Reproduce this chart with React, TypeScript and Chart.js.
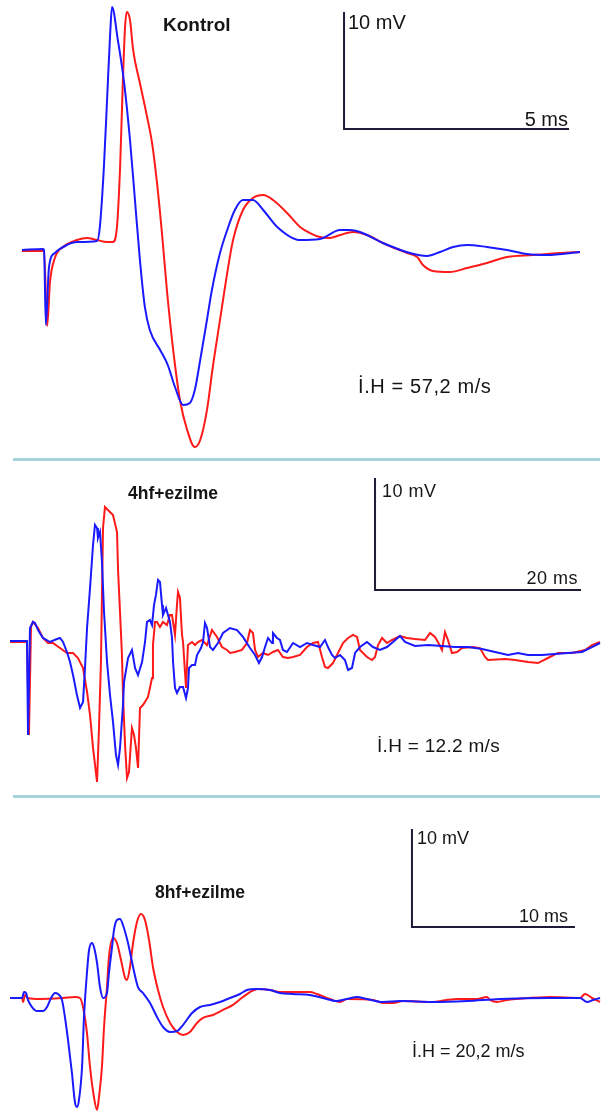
import React, { useEffect, useRef } from "react";
import { Chart, registerables } from "chart.js";

Chart.register(...registerables);

type Pt = [number, number]; // [time ms, voltage mV]

// ---------- Panel 1: Kontrol (time ms, amplitude mV) ----------
const kontrolBlue: Pt[] = [
  [0, 0], [0.47, 0.09], [0.49, 0], [0.53, -6.41], [0.6, -1.45], [0.73, -0.26], [1.0, 0.43],
  [1.22, 0.68], [1.67, 0.77], [1.73, 1.97], [1.82, 7.09], [1.89, 12.82], [1.96, 18.55],
  [2.0, 20.77], [2.13, 17.95], [2.27, 14.27], [2.4, 9.4], [2.51, 4.27], [2.62, -0.85],
  [2.73, -4.87], [2.84, -6.84], [3.07, -8.55], [3.24, -9.83], [3.4, -11.71], [3.58, -13.25],
  [3.73, -13.08], [3.84, -11.97], [3.96, -9.4], [4.11, -5.98], [4.22, -3.42], [4.4, -0.26],
  [4.56, 1.71], [4.73, 3.42], [4.91, 4.27], [5.13, 4.27], [5.36, 3.42], [5.67, 1.97],
  [6.18, 0.85], [6.62, 0.94], [7.07, 1.71], [7.29, 1.71], [7.51, 1.54], [8.02, 0.6],
  [8.62, -0.26], [9.0, -0.51], [9.29, -0.17], [9.58, 0.26], [9.89, 0.43], [10.33, 0.26],
  [10.78, 0], [11.22, -0.34], [11.67, -0.43], [12.4, -0.17],
];
const kontrolRed: Pt[] = [
  [0, -0.09], [0.49, -0.09], [0.56, -6.5], [0.62, -2.82], [0.73, -0.68], [0.91, 0.26],
  [1.22, 0.85], [1.44, 1.03], [1.67, 0.85], [1.89, 0.68], [2.02, 0.68], [2.11, 1.97],
  [2.18, 7.09], [2.24, 14.27], [2.29, 19.06], [2.33, 20.34], [2.4, 19.66], [2.47, 17.09],
  [2.62, 14.27], [2.78, 11.37], [2.89, 9.15], [3.0, 5.73], [3.11, 1.45], [3.22, -3.42],
  [3.36, -8.55], [3.51, -12.82], [3.67, -15.38], [3.84, -16.84], [3.96, -16.24],
  [4.11, -13.68], [4.24, -10.0], [4.4, -5.98], [4.56, -1.97], [4.69, 0.85], [4.91, 3.42],
  [5.13, 4.44], [5.36, 4.7], [5.58, 4.27], [5.89, 3.16], [6.18, 1.97], [6.4, 1.45],
  [6.62, 1.11], [6.84, 1.03], [7.07, 1.28], [7.36, 1.54], [7.67, 1.28], [8.02, 0.6],
  [8.56, -0.26], [8.78, -0.6], [8.91, -1.28], [9.13, -1.79], [9.51, -1.88], [9.89, -1.54],
  [10.33, -1.11], [10.78, -0.6], [11.36, -0.43], [11.96, -0.26], [12.4, -0.17],
];

// ---------- Panel 2: 4hf+ezilme ----------
const hf4Blue: Pt[] = [
  [0, 0.09], [1.65, 0.09], [1.75, -8.3], [1.94, 1.25], [2.23, 1.79], [2.43, 1.7], [2.72, 1.07],
  [3.2, 0.36], [3.88, 0], [4.56, 0.27], [4.85, 0.36], [5.15, 0], [5.53, -0.89], [5.83, -1.79],
  [6.12, -2.95], [6.5, -4.73], [6.8, -5.89], [7.09, -5.36], [7.28, -2.32], [7.48, 1.25],
  [7.77, 4.82], [8.06, 8.66], [8.25, 10.45], [8.45, 10.18], [8.54, 9.29], [8.74, 9.82],
  [8.93, 7.14], [9.13, 2.68], [9.42, -1.79], [9.71, -4.73], [10.0, -7.14], [10.29, -10.09],
  [10.49, -10.98], [10.68, -9.46], [10.97, -5.63], [11.07, -3.57], [11.46, -1.43],
  [11.84, -0.71], [12.14, -2.32], [12.43, -2.95], [12.82, -1.79], [13.11, 0], [13.3, 1.79],
  [13.59, 1.96], [13.79, 1.52], [13.98, 3.3], [14.17, 4.2], [14.37, 5.54], [14.56, 5.36],
  [14.76, 3.3], [14.85, 2.41], [15.15, 3.04], [15.34, 2.41], [15.53, 1.79], [15.73, 0.36],
  [15.83, -1.79], [16.02, -4.11], [16.21, -4.55], [16.5, -4.02], [16.8, -4.02], [17.09, -5.0],
  [17.28, -4.11], [17.38, -2.32], [17.67, -2.05], [17.96, -2.05], [18.16, -1.16],
  [18.54, -0.54], [18.74, 0], [18.93, 1.7], [19.13, 1.25], [19.42, -0.45], [19.71, -0.71],
  [20.19, -0.09], [20.68, 0.8], [21.36, 1.25], [22.04, 1.07], [22.62, 0.45], [23.3, -0.54],
  [23.79, -1.16], [24.17, -1.88], [24.47, -1.34], [24.76, -0.45], [25.05, 0.36],
  [25.44, -0.09], [25.53, 0.8], [25.92, 0.36], [26.21, 0.18], [26.5, -0.71], [26.89, -0.89],
  [27.48, -0.09], [28.16, -0.45], [28.83, -0.09], [29.42, -0.27], [30.1, -0.45], [30.58, 0.18],
  [30.87, -0.45], [31.26, -1.16], [31.55, -1.43], [32.04, -1.16], [32.52, -1.61],
  [32.82, -2.5], [33.2, -2.32], [33.5, -0.98], [33.98, -0.45], [34.66, 0], [35.24, -0.45],
  [35.92, -0.71], [36.6, -0.45], [37.18, 0], [37.86, 0.54], [38.35, 0], [39.32, -0.36],
  [40.58, -0.27], [41.94, -0.36], [43.2, -0.45], [44.47, -0.45], [45.83, -0.63],
  [47.09, -0.89], [48.35, -1.16], [49.32, -0.98], [50.29, -1.16], [51.65, -1.16],
  [52.91, -1.07], [54.17, -0.98], [55.53, -0.89], [56.5, -0.45], [57.28, -0.09],
];
const hf4Red: Pt[] = [
  [0, 0], [1.65, 0], [1.84, -8.3], [2.04, 1.34], [2.23, 1.79], [2.72, 1.25], [3.2, 0.36],
  [3.69, -0.09], [4.17, -0.09], [4.85, -0.54], [5.53, -0.98], [6.12, -0.98], [6.6, -1.43],
  [7.09, -2.32], [7.48, -4.46], [7.77, -6.52], [8.06, -9.46], [8.45, -12.5], [8.64, -7.68],
  [8.83, -1.79], [8.93, 4.2], [9.03, 10.18], [9.22, 12.05], [9.51, 11.79], [10.0, 11.34],
  [10.39, 9.82], [10.49, 6.43], [10.68, 2.68], [10.87, -1.16], [10.97, -4.73], [11.17, -9.2],
  [11.36, -12.14], [11.55, -11.61], [11.84, -7.68], [12.04, -8.3], [12.23, -9.46],
  [12.43, -11.25], [12.62, -5.89], [12.91, -5.63], [13.4, -4.91], [13.79, -3.21],
  [13.88, -0.27], [14.08, 1.79], [14.27, 1.79], [14.56, 1.34], [14.85, 1.79], [15.24, 1.52],
  [15.53, 2.41], [15.73, 2.41], [16.02, 0.63], [16.21, 3.3], [16.31, 4.46], [16.5, 3.93],
  [16.7, 0.63], [16.8, 0], [17.09, -4.11], [17.28, -0.27], [17.67, 0], [17.96, -0.27],
  [18.25, 0], [18.64, 0.18], [19.13, -0.27], [19.61, 1.07], [20.1, 0.45], [20.58, -0.45],
  [21.07, -0.71], [21.36, -0.98], [21.84, -0.89], [22.52, -0.71], [23.01, -0.09], [23.3, 1.07],
  [23.59, 0.8], [23.79, -0.71], [24.08, -1.34], [24.56, -0.98], [25.05, -1.16], [25.53, -0.89],
  [26.02, -0.71], [26.5, -1.34], [26.99, -1.43], [27.48, -1.34], [28.16, -1.16], [28.83, -0.45],
  [29.42, -0.09], [29.9, 0], [30.29, -1.34], [30.58, -2.23], [30.87, -2.32], [31.36, -1.88],
  [31.84, -0.98], [32.33, -0.09], [32.82, 0.36], [33.3, 0.63], [33.69, 0.45], [33.98, -0.71],
  [34.27, -0.98], [34.66, -1.34], [35.15, -1.61], [35.44, -1.34], [35.73, -0.27], [36.12, 0.36],
  [36.6, -0.09], [37.09, 0.18], [37.86, 0.54], [38.54, 0.36], [39.32, 0.27], [40.29, 0.18],
  [40.78, 0.8], [41.26, 0.45], [41.55, 0], [41.94, -0.71], [42.23, 0.89], [42.52, 0.18],
  [42.91, -0.98], [43.4, -0.89], [43.88, -0.54], [44.95, -0.45], [45.63, -0.54],
  [46.12, -1.34], [46.41, -1.61], [48.06, -1.52], [49.03, -1.61], [50.29, -1.79],
  [51.26, -1.88], [52.23, -1.43], [53.2, -0.98], [54.56, -0.98], [55.83, -0.71],
  [56.5, -0.27], [57.28, 0],
];

// ---------- Panel 3: 8hf+ezilme ----------
const hf8Blue: Pt[] = [
  [0, 0], [0.74, 0], [0.86, 0.61], [0.98, 0.51], [1.1, -0.2], [1.35, -0.92], [1.66, -1.33],
  [2.02, -1.33], [2.27, -0.92], [2.52, 0], [2.76, 0.51], [2.94, 0.41], [3.19, -0.2],
  [3.37, -1.94], [3.56, -4.29], [3.8, -7.65], [3.99, -10.71], [4.11, -11.12], [4.23, -10.41],
  [4.42, -7.04], [4.54, -1.94], [4.72, 2.55], [4.85, 4.9], [5.03, 5.61], [5.15, 5.2],
  [5.34, 3.57], [5.52, 1.12], [5.71, 0], [5.95, 0.51], [6.07, 2.55], [6.26, 5.2], [6.38, 6.94],
  [6.56, 7.96], [6.75, 8.06], [6.93, 7.45], [7.24, 5.61], [7.55, 3.16], [7.85, 1.12],
  [8.16, 0.51], [8.59, -0.51], [9.02, -1.94], [9.39, -2.96], [9.82, -3.47], [10.25, -3.37],
  [10.61, -2.76], [11.17, -1.53], [11.66, -0.92], [12.27, -0.71], [12.88, -0.41], [13.5, 0],
  [14.11, 0.41], [14.54, 0.82], [15.15, 0.92], [15.95, 0.82], [16.56, 0.51], [17.36, 0.41],
  [18.4, 0.31], [19.2, 0], [20.06, -0.31], [20.67, -0.1], [21.29, 0.1], [21.9, -0.1],
  [22.88, -0.41], [23.93, -0.31], [25.95, -0.41], [28.04, -0.31], [30.06, -0.1], [33.13, 0],
  [34.97, 0], [35.4, -0.41], [35.77, -0.2], [36.2, 0],
];
const hf8Red: Pt[] = [
  [0, 0], [0.74, 0], [0.8, -0.41], [0.92, 0.31], [1.1, 0], [1.84, -0.1], [3.25, 0], [3.99, 0.1],
  [4.29, 0], [4.48, -0.92], [4.72, -3.57], [4.91, -7.04], [5.15, -10.1], [5.34, -11.43],
  [5.46, -10.1], [5.64, -7.04], [5.77, -2.96], [5.95, 1.12], [6.07, 4.18], [6.32, 6.12],
  [6.56, 5.61], [6.81, 3.88], [7.06, 2.04], [7.18, 1.84], [7.36, 3.16], [7.55, 5.61],
  [7.79, 7.76], [8.04, 8.57], [8.28, 7.96], [8.53, 5.92], [8.77, 3.16], [9.08, 0.82],
  [9.39, -0.92], [9.82, -2.55], [10.25, -3.47], [10.61, -3.78], [11.04, -3.47], [11.47, -2.55],
  [11.84, -2.04], [12.45, -1.73], [13.07, -1.22], [13.68, -0.71], [14.29, 0.1], [14.72, 0.61],
  [15.21, 0.92], [15.95, 0.82], [16.56, 0.61], [18.4, 0.61], [18.83, 0.41], [19.63, -0.1],
  [20.25, -0.41], [20.67, -0.1], [22.27, -0.2], [22.88, -0.51], [23.5, -0.51], [24.11, -0.31],
  [25.77, -0.41], [27.42, -0.1], [28.65, -0.1], [29.26, 0.1], [29.45, -0.2], [29.88, -0.41],
  [30.49, -0.2], [31.1, -0.1], [33.13, 0.1], [34.97, 0], [35.28, 0.41], [35.71, 0], [36.2, -0.41],
];

// Scale-bar sizes (mV, ms)
const scaleMv = 10;
const scaleMsKontrol = 5;
const scaleMs4hf = 20;
const scaleMs8hf = 10;

// Labels
const titles = ["Kontrol", "4hf+ezilme", "8hf+ezilme"];
const speeds = ["İ.H = 57,2 m/s", "İ.H = 12.2 m/s", "İ.H = 20,2 m/s"];

const BLUE = "#1a1aff";
const RED = "#ff1a1a";
const BAR = "#1c1c38";
const FONT = '"Liberation Sans", Arial, sans-serif';

type PanelProps = {
  top: number;
  height: number;
  blue: Pt[];
  red: Pt[];
  xMin: number;
  xMax: number;
  yMin: number;
  yMax: number;
  barAt: [number, number];
  barMs: number;
  smooth: boolean;
};

function Panel(p: PanelProps) {
  const ref = useRef<HTMLCanvasElement | null>(null);
  useEffect(() => {
    if (!ref.current) return;
    const toXY = (a: Pt[]) => a.map(([x, y]) => ({ x, y }));
    const [bx, by] = p.barAt;
    const bar = [
      { x: bx, y: by + scaleMv },
      { x: bx, y: by },
      { x: bx + p.barMs, y: by },
    ];
    const lineOpts = {
      showLine: true,
      pointRadius: 0,
      borderWidth: 2,
      fill: false,
      tension: 0,
      cubicInterpolationMode: p.smooth ? ("monotone" as const) : ("default" as const),
    };
    const chart = new Chart(ref.current, {
      type: "scatter",
      data: {
        datasets: [
          { ...lineOpts, data: toXY(p.blue), borderColor: BLUE },
          { ...lineOpts, data: toXY(p.red), borderColor: RED },
          { ...lineOpts, data: bar, borderColor: BAR, cubicInterpolationMode: "default", borderWidth: 2 },
        ],
      },
      options: {
        animation: false,
        responsive: false,
        events: [],
        layout: { padding: 0 },
        plugins: { legend: { display: false }, tooltip: { enabled: false } },
        scales: {
          x: { type: "linear", min: p.xMin, max: p.xMax, display: false },
          y: { type: "linear", min: p.yMin, max: p.yMax, display: false },
        },
      },
    });
    return () => chart.destroy();
  }, []);
  return (
    <canvas
      ref={ref}
      width={609}
      height={p.height}
      style={{ position: "absolute", left: 0, top: p.top, width: 609, height: p.height }}
    />
  );
}

function Label(props: { text: string; x: number; base: number; size: number; bold?: boolean; right?: boolean; spacing?: number }) {
  const { text, x, base, size, bold, right, spacing } = props;
  const top = base - 0.8465 * size;
  const style: React.CSSProperties = {
    position: "absolute",
    top,
    fontFamily: FONT,
    fontSize: size,
    lineHeight: `${size}px`,
    fontWeight: bold ? 700 : 400,
    color: "#151515",
    whiteSpace: "nowrap",
    letterSpacing: spacing ?? 0,
  };
  if (right) style.right = 609 - x;
  else style.left = x;
  return <div style={style}>{text}</div>;
}

export default function App() {
  return (
    <div style={{ position: "absolute", left: 0, top: 0, width: 609, height: 1118, background: "#fff", overflow: "hidden" }}>
      <Panel top={0} height={458} blue={kontrolBlue} red={kontrolRed}
        xMin={-0.4889} xMax={13.044} yMin={-17.778} yMax={21.368}
        barAt={[7.156, 10.34]} barMs={scaleMsKontrol} smooth />
      <Panel top={461} height={334} blue={hf4Blue} red={hf4Red}
        xMin={-0.9709} xMax={58.155} yMin={-13.661} yMax={16.161}
        barAt={[35.44, 4.64]} barMs={scaleMs4hf} smooth={false} />
      <Panel top={798} height={320} blue={hf8Blue} red={hf8Red}
        xMin={-0.6135} xMax={36.748} yMin={-12.245} yMax={20.408}
        barAt={[24.66, 7.24]} barMs={scaleMs8hf} smooth />

      <div style={{ position: "absolute", left: 13, top: 458, width: 587, height: 3, background: "#a6d5d9" }} />
      <div style={{ position: "absolute", left: 13, top: 795, width: 587, height: 3, background: "#a6d5d9" }} />

      <Label text={titles[0]} x={163} base={31} size={19} bold />
      <Label text={`${scaleMv} mV`} x={348} base={29} size={20} />
      <Label text={`${scaleMsKontrol} ms`} x={568} base={126} size={20} right />
      <Label text={speeds[0]} x={358} base={393} size={20} spacing={0.6} />

      <Label text={titles[1]} x={128} base={500} size={17.5} bold />
      <Label text={`${scaleMv} mV`} x={382} base={497} size={18} spacing={0.5} />
      <Label text={`${scaleMs4hf} ms`} x={578} base={584} size={18} right spacing={0.5} />
      <Label text={speeds[1]} x={377} base={752} size={19} spacing={0.3} />

      <Label text={titles[2]} x={155} base={899} size={17.5} bold />
      <Label text={`${scaleMv} mV`} x={417} base={844} size={18} />
      <Label text={`${scaleMs8hf} ms`} x={568} base={922} size={18} right />
      <Label text={speeds[2]} x={412} base={1057} size={18} />
    </div>
  );
}
